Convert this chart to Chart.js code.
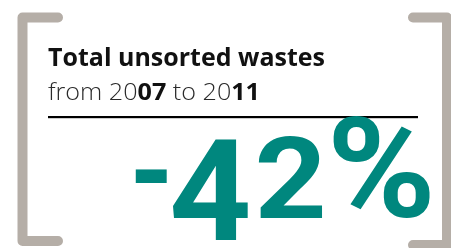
<!DOCTYPE html>
<html>
<head>
<meta charset="utf-8">
<script src="https://cdn.jsdelivr.net/npm/chart.js@4/dist/chart.umd.min.js"></script>
<style>
  html, body { margin: 0; padding: 0; background: #ffffff; }
  #wrap { width: 451px; height: 248px; position: relative; }
</style>
</head>
<body>
<div id="wrap"><canvas id="c"></canvas></div>
<script>
// ---- data ----
const titleText = ['Total unsorted wastes'];
const years = ['2007', '2011'];
const changePercent = [-42];

// ---- styles ----
const TEAL = '#00877e';
const BRACKET = '#b5aea7';

function fitText(ctx, text, font, color, x0, y0, x1, y1) {
  ctx.save();
  ctx.font = font;
  const m = ctx.measureText(text);
  const w = m.actualBoundingBoxLeft + m.actualBoundingBoxRight;
  const h = m.actualBoundingBoxAscent + m.actualBoundingBoxDescent;
  ctx.translate(x0, y0);
  ctx.scale((x1 - x0) / w, (y1 - y0) / h);
  ctx.fillStyle = color;
  ctx.textBaseline = 'alphabetic';
  ctx.textAlign = 'left';
  ctx.fillText(text, m.actualBoundingBoxLeft, m.actualBoundingBoxAscent);
  ctx.restore();
}

const infographic = {
  id: 'infographic',
  afterDraw(chart) {
    const ctx = chart.ctx;
    // brackets
    ctx.save();
    ctx.strokeStyle = BRACKET;
    ctx.lineWidth = 10;
    ctx.lineCap = 'round';
    ctx.lineJoin = 'round';
    ctx.beginPath();
    ctx.moveTo(58, 17.5); ctx.lineTo(22.5, 17.5); ctx.lineTo(22.5, 241); ctx.lineTo(58, 241);
    ctx.stroke();
    ctx.beginPath();
    ctx.moveTo(413, 17.5); ctx.lineTo(447, 17.5); ctx.lineTo(447, 245); ctx.lineTo(413, 245);
    ctx.stroke();
    ctx.restore();

    // title
    fitText(ctx, titleText[0], 'bold 24px "Open Sans"', '#111111', 48, 47.3, 325, 66);

    // subtitle with bold year endings
    const y0 = years[0], y1 = years[1];
    const runs = [
      ['from ' + y0.slice(0, 2), false],
      [y0.slice(2), true],
      [' to ' + y1.slice(0, 2), false],
      [y1.slice(2), true]
    ];
    const size = 23.5;
    const fonts = [ '300 ' + size + 'px "Open Sans"', 'bold ' + size + 'px "Open Sans"' ];
    ctx.save();
    let total = 0;
    runs.forEach(r => { ctx.font = fonts[r[1] ? 1 : 0]; total += ctx.measureText(r[0]).width; });
    const sx = (260 - 48) / total;
    ctx.translate(48, 100);
    ctx.scale(sx, 1);
    let x = 0;
    runs.forEach(r => {
      ctx.font = fonts[r[1] ? 1 : 0];
      ctx.fillStyle = r[1] ? '#111111' : '#2a2a2a';
      ctx.fillText(r[0], x, 0);
      x += ctx.measureText(r[0]).width;
    });
    ctx.restore();

    // rule
    ctx.save();
    ctx.fillStyle = '#000000';
    ctx.fillRect(48, 116, 370, 2.2);
    ctx.restore();

    // big figure
    const s = String(changePercent[0]) + '%';
    const chars = s.split('');
    const boxes = {
      '-': [135, 169, 167, 183],
      '4': [172, 139, 248, 240],
      '2': [258, 137, 322, 218],
      '%': [333, 117, 430, 218]
    };
    const big = 'bold 140px Roboto';
    chars.forEach(ch => {
      const b = boxes[ch];
      if (b) fitText(ctx, ch, big, TEAL, b[0], b[1], b[2], b[3]);
    });
  }
};

new Chart(document.getElementById('c'), {
  type: 'bar',
  data: { labels: years, datasets: [{ data: [], backgroundColor: TEAL }] },
  options: {
    responsive: true,
    maintainAspectRatio: false,
    animation: false,
    events: [],
    layout: { padding: 0 },
    plugins: { legend: { display: false }, title: { display: false }, tooltip: { enabled: false } },
    scales: { x: { display: false }, y: { display: false } }
  },
  plugins: [infographic]
});
</script>
</body>
</html>
